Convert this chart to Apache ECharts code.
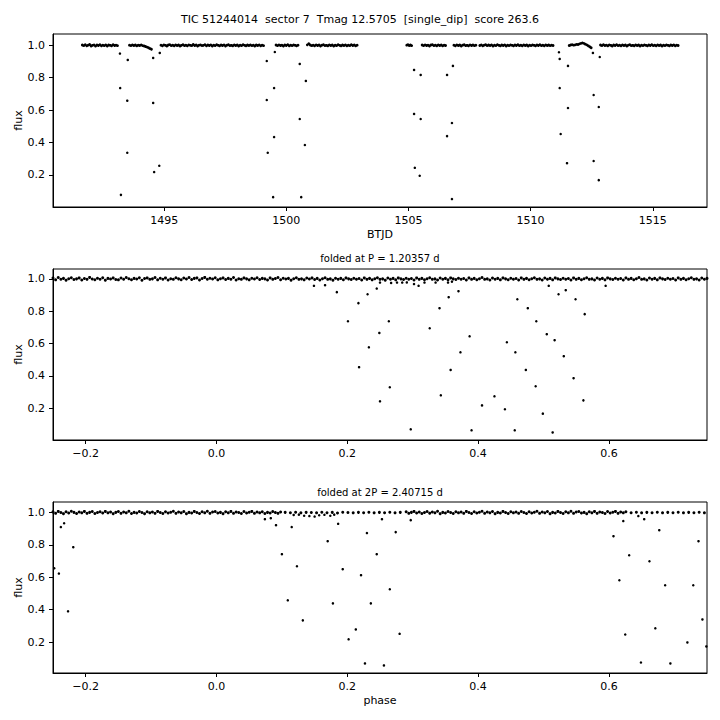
<!DOCTYPE html>
<html><head><meta charset="utf-8">
<script src="https://cdn.jsdelivr.net/npm/echarts@6/dist/echarts.min.js"></script>
<style>html,body{margin:0;padding:0;background:#fff}#c{width:720px;height:720px}</style>
</head><body><div id="c"></div>
<script>
const titleText = 'TIC 51244014  sector 7  Tmag 12.5705  [single_dip]  score 263.6';
const foldTitle1 = 'folded at P = 1.20357 d';
const foldTitle2 = 'folded at 2P = 2.40715 d';
const xLabel1 = 'BTJD';
const xLabel3 = 'phase';
const yLabel = 'flux';
const xTicksTime = [1495, 1500, 1505, 1510, 1515];
const xTicksPhase = [-0.2, 0, 0.2, 0.4, 0.6];
const yTicksFlux = [0.2, 0.4, 0.6, 0.8, 1.0];

// light curve: out-of-dip points (BTJD, flux)
const lcBaseline = [
[1491.65,1.002],[1491.71,0.998],[1491.77,1.004],[1491.83,0.997],[1491.89,1.001],[1491.95,1.005],[1492.01,0.996],[1492.07,1.000],[1492.13,1.003],[1492.19,0.995],[1492.25,1.002],[1492.31,0.999],[1492.37,1.004],[1492.43,0.997],[1492.49,1.001],[1492.55,0.998],[1492.61,1.003],[1492.67,0.996],[1492.73,1.002],[1492.79,1.000],[1492.85,0.997],[1492.91,1.004],[1492.97,0.999],[1493.03,1.001],[1493.09,0.998],
[1493.58,1.001],[1493.64,0.998],[1493.70,1.003],[1493.76,0.999],[1493.82,1.002],[1493.88,0.997],[1493.94,1.001],[1494.00,0.999],[1494.06,1.003],[1494.12,0.998],[1494.18,0.996],[1494.24,0.993],[1494.30,0.989],[1494.36,0.985],[1494.42,0.980],[1494.48,0.976],
[1494.87,1.001],[1494.93,0.997],[1494.99,1.003],[1495.05,1.000],[1495.11,0.996],[1495.17,1.002],[1495.23,1.004],[1495.29,0.998],[1495.35,1.001],[1495.41,0.997],[1495.47,1.003],[1495.53,0.999],[1495.59,1.002],[1495.65,0.996],[1495.71,1.000],[1495.77,1.004],[1495.83,0.998],[1495.89,1.001],[1495.95,0.997],[1496.01,1.003],[1496.07,1.000],[1496.13,0.998],[1496.19,1.005],[1496.25,0.999],[1496.31,1.002],[1496.37,0.996],[1496.43,1.001],[1496.49,1.003],[1496.55,0.998],[1496.61,1.000],[1496.67,1.004],[1496.73,0.997],[1496.79,1.002],[1496.85,0.999],[1496.91,1.003],[1496.97,0.996],[1497.03,1.001],[1497.09,0.998],[1497.15,1.004],[1497.21,1.000],[1497.27,0.997],[1497.33,1.002],[1497.39,0.999],[1497.45,1.003],[1497.51,0.996],[1497.57,1.001],[1497.63,1.004],[1497.69,0.998],[1497.75,1.000],[1497.81,0.997],[1497.87,1.003],[1497.93,0.999],[1497.99,1.002],[1498.05,0.996],[1498.11,1.001],[1498.17,0.998],[1498.23,1.004],[1498.29,1.000],[1498.35,0.997],[1498.41,1.002],[1498.47,0.999],[1498.53,1.003],[1498.59,0.998],[1498.65,1.001],[1498.71,0.996],[1498.77,1.002],[1498.83,0.999],[1498.89,1.003],[1498.95,0.997],[1499.01,1.001],[1499.07,0.998],
[1499.58,1.002],[1499.64,0.998],[1499.70,1.003],[1499.76,0.999],[1499.82,1.001],[1499.88,0.996],[1499.94,1.002],[1500.00,0.999],[1500.06,1.004],[1500.12,0.997],[1500.18,1.001],[1500.24,0.998],[1500.30,1.003],[1500.36,1.000],[1500.42,0.997],[1500.48,1.001],
[1500.86,1.003],[1500.92,1.010],[1500.98,1.002],[1501.04,0.998],[1501.10,1.001],[1501.16,0.997],[1501.22,1.003],[1501.28,0.999],[1501.34,1.002],[1501.40,0.996],[1501.46,1.001],[1501.52,1.004],[1501.58,0.998],[1501.64,1.000],[1501.70,0.997],[1501.76,1.003],[1501.82,0.999],[1501.88,1.002],[1501.94,0.996],[1502.00,1.001],[1502.06,0.998],[1502.12,1.004],[1502.18,1.000],[1502.24,0.997],[1502.30,1.002],[1502.36,0.999],[1502.42,1.003],[1502.48,0.997],[1502.54,1.001],[1502.60,0.998],[1502.66,1.004],[1502.72,0.999],[1502.78,1.002],[1502.84,0.997],[1502.90,1.001],
[1504.93,1.001],[1504.98,1.004],[1505.03,0.999],[1505.08,1.002],[1505.13,0.998],
[1505.56,1.002],[1505.62,0.998],[1505.68,1.003],[1505.74,0.999],[1505.80,1.001],[1505.86,0.996],[1505.92,1.002],[1505.98,1.004],[1506.04,0.998],[1506.10,1.001],[1506.16,0.997],[1506.22,1.003],[1506.28,0.999],[1506.34,1.002],[1506.40,0.997],[1506.46,1.001],[1506.52,0.999],
[1506.86,1.001],[1506.92,0.997],[1506.98,1.003],[1507.04,0.999],[1507.10,1.002],[1507.16,0.996],[1507.22,1.001],[1507.28,1.004],[1507.34,0.998],[1507.40,1.000],[1507.46,0.997],[1507.52,1.003],[1507.58,0.999],[1507.64,1.002],[1507.70,0.998],[1507.76,1.001],
[1507.92,0.999],[1507.98,1.003],[1508.04,0.997],[1508.10,1.001],[1508.16,1.004],[1508.22,0.998],[1508.28,1.002],[1508.34,0.999],[1508.40,1.003],[1508.46,0.996],[1508.52,1.001],[1508.58,0.998],[1508.64,1.004],[1508.70,1.000],[1508.76,0.997],[1508.82,1.002],[1508.88,0.999],[1508.94,1.003],[1509.00,0.996],[1509.06,1.001],[1509.12,0.998],[1509.18,1.003],[1509.24,1.000],[1509.30,0.997],[1509.36,1.002],[1509.42,0.999],[1509.48,1.004],[1509.54,0.998],[1509.60,1.001],[1509.66,0.997],[1509.72,1.003],[1509.78,0.999],[1509.84,1.002],[1509.90,0.996],[1509.96,1.001],[1510.02,0.998],[1510.08,1.003],[1510.14,1.000],[1510.20,0.997],[1510.26,1.002],[1510.32,0.999],[1510.38,1.004],[1510.44,0.998],[1510.50,1.001],[1510.56,0.997],[1510.62,1.003],[1510.68,0.999],[1510.74,1.002],[1510.80,0.998],[1510.86,1.001],[1510.92,0.999],
[1511.58,0.999],[1511.64,1.002],[1511.70,1.004],[1511.76,1.001],[1511.82,1.003],[1511.88,1.006],[1511.94,1.005],[1512.00,1.009],[1512.06,1.012],[1512.12,1.015],[1512.18,1.012],[1512.24,1.007],[1512.30,1.003],[1512.36,0.997],[1512.42,0.991],[1512.48,0.985],
[1512.86,1.002],[1512.92,0.998],[1512.98,1.004],[1513.04,0.999],[1513.10,1.001],[1513.16,0.997],[1513.22,1.003],[1513.28,1.000],[1513.34,0.996],[1513.40,1.002],[1513.46,0.999],[1513.52,1.004],[1513.58,0.998],[1513.64,1.001],[1513.70,0.997],[1513.76,1.003],[1513.82,0.999],[1513.88,1.002],[1513.94,0.996],[1514.00,1.001],[1514.06,1.004],[1514.12,0.998],[1514.18,1.000],[1514.24,0.997],[1514.30,1.003],[1514.36,0.999],[1514.42,1.002],[1514.48,0.996],[1514.54,1.001],[1514.60,0.998],[1514.66,1.003],[1514.72,1.000],[1514.78,0.997],[1514.84,1.002],[1514.90,0.999],[1514.96,1.004],[1515.02,0.998],[1515.08,1.001],[1515.14,0.997],[1515.20,1.003],[1515.26,0.999],[1515.32,1.002],[1515.38,0.996],[1515.44,1.001],[1515.50,0.998],[1515.56,1.003],[1515.62,1.000],[1515.68,0.997],[1515.74,1.002],[1515.80,0.999],[1515.86,1.003],[1515.92,0.997],[1515.98,1.001],[1516.04,0.999]
];
// light curve: in-dip points (BTJD, flux)
const lcDips = [
[1493.19,0.949],[1493.51,0.910],[1493.20,0.736],[1493.49,0.658],[1493.49,0.336],[1493.23,0.076],
[1494.55,0.922],[1494.82,0.953],[1494.55,0.644],[1494.59,0.217],[1494.80,0.256],
[1499.20,0.903],[1499.53,0.959],[1499.50,0.736],[1499.20,0.662],[1499.50,0.433],[1499.24,0.336],[1499.46,0.062],
[1500.55,0.885],[1500.80,0.780],[1500.55,0.545],[1500.76,0.384],[1500.61,0.062],
[1505.23,0.848],[1505.50,0.817],[1506.58,0.817],[1506.82,0.873],[1505.23,0.576],[1505.50,0.545],[1506.78,0.520],[1506.58,0.439],[1505.26,0.243],[1505.46,0.194],[1506.78,0.050],
[1511.16,0.957],[1511.19,0.916],[1511.53,0.873],[1511.19,0.736],[1511.53,0.613],[1511.23,0.452],[1511.49,0.272],
[1512.55,0.953],[1512.83,0.928],[1512.58,0.693],[1512.79,0.619],[1512.58,0.285],[1512.79,0.167]
];

// folded at P: out-of-dip points (phase, flux)
const fold1Baseline = [
[-0.250,1.005],[-0.246,0.994],[-0.242,1.008],[-0.238,0.998],[-0.234,1.003],[-0.230,0.992],[-0.226,1.001],[-0.222,1.007],[-0.218,0.996],[-0.214,1.000],[-0.210,1.006],[-0.206,0.993],[-0.202,1.002],[-0.198,0.997],[-0.194,1.009],[-0.190,0.999],[-0.186,0.995],[-0.182,1.004],[-0.178,0.998],[-0.174,1.007],[-0.170,0.992],[-0.166,1.003],[-0.162,0.999],[-0.158,1.006],[-0.154,0.996],[-0.150,0.994],[-0.146,1.005],[-0.142,0.998],[-0.138,1.008],[-0.134,1.001],[-0.130,0.995],[-0.126,1.003],[-0.122,0.999],[-0.118,1.007],[-0.114,0.991],[-0.110,1.002],[-0.106,1.006],[-0.102,0.997],[-0.098,1.000],[-0.094,1.008],[-0.090,0.994],[-0.086,1.004],[-0.082,0.998],[-0.078,1.006],[-0.074,0.993],[-0.070,1.001],[-0.066,0.997],[-0.062,1.007],[-0.058,1.000],[-0.054,0.995],[-0.050,1.005],[-0.046,0.999],[-0.042,1.008],[-0.038,0.996],[-0.034,1.003],[-0.030,1.006],[-0.026,0.993],[-0.022,1.002],[-0.018,1.009],[-0.014,0.998],[-0.010,1.004],[-0.006,0.999],[-0.002,1.007],
[0.002,0.994],[0.006,1.001],[0.010,1.006],[0.014,0.996],[0.018,1.003],[0.022,0.998],[0.026,1.008],[0.030,0.993],[0.034,1.001],[0.038,0.997],[0.042,1.006],[0.046,1.000],[0.050,0.994],[0.054,1.004],[0.058,0.999],[0.062,1.007],[0.066,0.996],[0.070,1.003],[0.074,1.000],[0.078,0.993],[0.082,1.006],[0.086,0.997],[0.090,1.002],[0.094,1.008],[0.098,0.995],[0.102,1.004],[0.106,0.999],[0.110,1.003],[0.114,0.992],[0.118,1.001],[0.122,1.007],[0.126,0.997],[0.130,1.000],[0.134,0.994],[0.138,1.005],[0.142,0.999],[0.146,1.006],[0.150,0.996],[0.154,1.003],[0.158,0.993],[0.162,1.001],[0.166,1.007],[0.170,0.997],[0.174,1.000],[0.178,0.992],[0.182,1.004],[0.186,0.998],[0.190,1.003],[0.194,0.995],[0.198,1.006],[0.202,1.000],[0.206,0.996],[0.210,1.004],[0.214,0.998],[0.218,1.002],[0.222,0.993],[0.226,1.006],[0.230,0.997],[0.234,1.003],[0.238,0.994],[0.242,1.001],[0.246,1.007],
[0.250,0.997],[0.254,1.000],[0.258,0.992],[0.262,1.005],[0.266,0.998],[0.270,1.003],[0.274,0.994],[0.278,1.006],[0.282,1.000],[0.286,0.996],[0.290,1.004],[0.294,0.998],[0.298,1.002],[0.302,0.993],[0.306,1.006],[0.310,0.997],[0.314,1.003],[0.318,0.995],[0.322,1.001],[0.326,1.007],[0.330,0.997],[0.334,1.000],[0.338,0.993],[0.342,1.005],[0.346,0.998],[0.350,1.003],[0.354,0.994],[0.358,1.006],[0.362,1.000],[0.366,0.996],[0.370,1.004],[0.374,0.998],[0.378,1.002],[0.382,0.993],[0.386,1.006],[0.390,0.997],[0.394,1.003],[0.398,0.995],[0.402,1.001],[0.406,1.008],[0.410,0.997],[0.414,1.000],[0.418,0.993],[0.422,1.005],[0.426,0.998],[0.430,1.003],[0.434,0.994],[0.438,1.006],[0.442,1.000],[0.446,0.995],[0.450,1.004],[0.454,0.998],[0.458,1.002],[0.462,0.993],[0.466,1.006],[0.470,0.997],[0.474,1.003],[0.478,0.995],[0.482,1.001],[0.486,1.007],[0.490,0.997],[0.494,1.000],[0.498,0.993],
[0.502,1.005],[0.506,0.998],[0.510,1.003],[0.514,0.994],[0.518,1.006],[0.522,1.000],[0.526,0.996],[0.530,1.004],[0.534,0.998],[0.538,1.002],[0.542,0.993],[0.546,1.006],[0.550,0.997],[0.554,1.003],[0.558,0.995],[0.562,1.001],[0.566,1.007],[0.570,0.997],[0.574,1.000],[0.578,0.993],[0.582,1.005],[0.586,0.998],[0.590,1.003],[0.594,0.994],[0.598,1.006],[0.602,1.000],[0.606,0.996],[0.610,1.004],[0.614,0.998],[0.618,1.002],[0.622,0.993],[0.626,1.006],[0.630,0.997],[0.634,1.003],[0.638,0.995],[0.642,1.001],[0.646,1.008],[0.650,0.997],[0.654,1.000],[0.658,0.993],[0.662,1.005],[0.666,0.998],[0.670,1.003],[0.674,0.994],[0.678,1.006],[0.682,1.000],[0.686,0.996],[0.690,1.004],[0.694,0.998],[0.698,1.002],[0.702,0.993],[0.706,1.006],[0.710,0.997],[0.714,1.003],[0.718,0.995],[0.722,1.001],[0.726,1.007],[0.730,0.997],[0.734,1.000],[0.738,0.993],[0.742,1.005],[0.746,0.998],[0.750,1.003]
];
// folded at P: shallow and deep in-dip points (phase, flux)
const fold1Shallow = [
[0.250,0.977],[0.267,0.975],[0.276,0.977],[0.284,0.977],[0.291,0.978],[0.302,0.968],[0.309,0.957],[0.318,0.977],[0.335,0.977],[0.354,0.977],[0.360,0.983]
];
const fold1Dips = [
[0.149,0.957],[0.166,0.961],[0.184,0.918],[0.201,0.738],[0.217,0.850],[0.218,0.454],[0.233,0.577],[0.231,0.905],[0.245,0.940],[0.249,0.666],[0.2635,0.738],[0.265,0.330],[0.250,0.243],[0.297,0.070],[0.326,0.695],[0.341,0.819],[0.355,0.887],[0.370,0.924],[0.358,0.437],[0.343,0.280],[0.373,0.546],[0.387,0.645],[0.390,0.064],[0.406,0.218],[0.425,0.274],[0.441,0.194],[0.444,0.608],[0.457,0.546],[0.460,0.874],[0.456,0.064],[0.473,0.437],[0.476,0.819],[0.488,0.336],[0.489,0.738],[0.499,0.167],[0.505,0.658],[0.508,0.957],[0.514,0.051],[0.517,0.621],[0.523,0.905],[0.531,0.522],[0.534,0.930],[0.546,0.386],[0.549,0.874],[0.563,0.782],[0.561,0.249],[0.595,0.957]
];

// folded at 2P: out-of-dip points (phase, flux)
const fold2Baseline = [
[-0.250,1.004],[-0.246,0.995],[-0.242,1.007],[-0.238,1.000],[-0.234,0.993],[-0.230,1.005],[-0.226,0.997],[-0.222,1.008],[-0.218,1.001],[-0.214,0.994],[-0.210,1.003],[-0.206,0.998],[-0.202,1.007],[-0.198,0.995],[-0.194,1.001],[-0.190,1.006],[-0.186,0.994],[-0.182,1.000],[-0.178,1.005],[-0.174,0.997],[-0.170,1.007],[-0.166,0.998],[-0.162,1.003],[-0.158,0.993],[-0.154,1.001],[-0.150,1.006],[-0.146,0.995],[-0.142,1.003],[-0.138,0.998],[-0.134,1.008],[-0.130,0.994],[-0.126,1.001],[-0.122,0.997],[-0.118,1.006],[-0.114,1.000],[-0.110,0.993],[-0.106,1.005],[-0.102,0.998],[-0.098,1.003],[-0.094,0.995],[-0.090,1.007],[-0.086,1.000],[-0.082,0.994],[-0.078,1.005],[-0.074,0.997],[-0.070,1.002],[-0.066,1.008],[-0.062,0.995],[-0.058,1.003],[-0.054,0.998],[-0.050,1.006],[-0.046,0.993],[-0.042,1.001],[-0.038,0.997],[-0.034,1.007],[-0.030,1.000],[-0.026,0.994],[-0.022,1.005],[-0.018,0.998],[-0.014,1.008],[-0.010,0.995],[-0.006,1.003],[-0.002,1.006],
[0.002,0.997],[0.006,1.001],[0.010,0.993],[0.014,1.005],[0.018,0.998],[0.022,1.007],[0.026,0.995],[0.030,1.003],[0.034,1.000],[0.038,0.994],[0.042,1.006],[0.046,0.997],[0.050,1.002],[0.054,1.007],[0.058,0.995],[0.062,1.003],[0.066,0.998],[0.070,1.005],[0.074,0.994],[0.078,1.001],[0.082,0.997],[0.086,1.006],[0.090,1.000],[0.094,0.995],[0.098,1.003],
[0.105,1.001],[0.113,0.999],[0.121,1.002],[0.129,0.998],[0.137,1.001],[0.145,1.000],[0.153,0.998],[0.161,1.002],[0.169,0.999],[0.177,1.001],[0.185,0.997],[0.193,1.002],[0.201,1.000],[0.209,0.998],[0.217,1.001],[0.225,0.999],[0.233,1.002],[0.241,0.998],[0.249,1.001],[0.257,0.999],[0.265,1.002],[0.273,0.998],[0.281,1.001],
[0.290,1.005],[0.294,0.995],[0.298,1.001],[0.302,1.007],[0.306,0.997],[0.310,1.003],[0.314,0.994],[0.318,1.000],[0.322,1.006],[0.326,0.996],[0.330,1.003],[0.334,0.998],[0.338,1.008],[0.342,0.993],[0.346,1.001],[0.350,0.997],[0.354,1.006],[0.358,1.000],[0.362,0.994],[0.366,1.005],[0.370,0.998],[0.374,1.003],[0.378,0.995],[0.382,1.007],[0.386,1.000],[0.390,0.994],[0.394,1.005],[0.398,0.997],[0.402,1.002],[0.406,1.008],[0.410,0.995],[0.414,1.003],[0.418,0.998],[0.422,1.006],[0.426,0.993],[0.430,1.001],[0.434,0.997],[0.438,1.007],[0.442,1.000],[0.446,0.994],[0.450,1.005],[0.454,0.998],[0.458,1.003],[0.462,0.995],[0.466,1.006],[0.470,1.000],[0.474,0.994],[0.478,1.005],[0.482,0.997],[0.486,1.002],[0.490,1.008],[0.494,0.995],[0.498,1.003],[0.502,0.998],[0.506,1.006],[0.510,0.993],[0.514,1.001],[0.518,0.997],[0.522,1.007],[0.526,1.000],[0.530,0.994],[0.534,1.005],[0.538,0.998],[0.542,1.008],[0.546,0.995],[0.550,1.003],[0.554,1.006],[0.558,0.997],[0.562,1.001],[0.566,0.993],[0.570,1.005],[0.574,0.998],[0.578,1.007],[0.582,0.995],[0.586,1.003],[0.590,1.000],[0.594,0.994],[0.598,1.006],[0.602,0.997],[0.606,1.002],[0.610,1.007],[0.614,0.995],[0.618,1.003],[0.622,0.998],[0.626,1.005],
[0.634,0.999],[0.642,1.002],[0.650,0.998],[0.658,1.001],[0.666,0.999],[0.674,1.002],[0.682,0.998],[0.690,1.001],[0.698,0.999],[0.706,1.002],[0.714,0.998],[0.722,1.001],[0.730,0.999],[0.738,1.002],[0.746,0.998]
];
// folded at 2P: shallow and deep in-dip points (phase, flux)
const fold2Shallow = [
[0.118,0.985],[0.126,0.987],[0.134,0.980],[0.142,0.978],[0.150,0.975],[0.157,0.983],[0.165,0.986],[0.174,0.980],[0.180,0.987]
];
const fold2Dips = [
[-0.248,0.656],[-0.241,0.623],[-0.238,0.910],[-0.233,0.934],[-0.227,0.390],[-0.219,0.786],
[0.074,0.959],[0.083,0.965],[0.091,0.922],[0.100,0.743],[0.109,0.458],[0.115,0.910],[0.123,0.668],[0.132,0.334],
[0.170,0.823],[0.178,0.439],[0.186,0.930],[0.193,0.650],[0.202,0.217],[0.213,0.278],[0.221,0.613],[0.227,0.068],[0.230,0.873],[0.236,0.439],[0.245,0.743],
[0.253,0.959],[0.256,0.056],[0.265,0.526],[0.274,0.879],[0.280,0.251],[0.297,0.953],
[0.607,0.854],[0.616,0.582],[0.622,0.947],[0.625,0.247],[0.631,0.736],[0.645,0.978],[0.649,0.074],[0.654,0.959],[0.662,0.699],[0.671,0.285],[0.677,0.891],[0.686,0.551],[0.694,0.068],[0.720,0.198],[0.729,0.551],[0.737,0.823],[0.743,0.340],[0.749,0.173]
];

const FONT = '"DejaVu Sans", sans-serif';
const chart = echarts.init(document.getElementById('c'), null, {renderer: 'svg', width: 720, height: 720});

const fmtFlux = v => v.toFixed(1);
const fmtTime = v => String(v);
const fmtPhase = v => (v < -1e-9 ? '\u2212' : '') + Math.abs(v).toFixed(1);

function xAx(i, min, max, ticks, fmt) {
  return {
    type: 'value', gridIndex: i, min: min, max: max, position: 'bottom',
    axisLine: {show: true, onZero: false, lineStyle: {color: '#000', width: 1}},
    axisTick: {show: true, customValues: ticks, length: 4, inside: false, lineStyle: {color: '#000', width: 1}},
    axisLabel: {show: true, customValues: ticks, margin: 8, color: '#000', fontFamily: FONT, fontSize: 11, formatter: fmt},
    splitLine: {show: false}
  };
}
function yAx(i, min, max) {
  return {
    type: 'value', gridIndex: i, min: min, max: max, position: 'left',
    axisLine: {show: true, onZero: false, lineStyle: {color: '#000', width: 1}},
    axisTick: {show: true, customValues: yTicksFlux, length: 4, inside: false, lineStyle: {color: '#000', width: 1}},
    axisLabel: {show: true, customValues: yTicksFlux, margin: 8, color: '#000', fontFamily: FONT, fontSize: 11, formatter: fmtFlux},
    splitLine: {show: false}
  };
}
function sc(data, i, size) {
  return {type: 'scatter', xAxisIndex: i, yAxisIndex: i, data: data, symbol: 'circle', symbolSize: size,
    itemStyle: {color: '#000', opacity: 1}, silent: true, animation: false};
}
function txt(text, x, y, size, rot) {
  return {type: 'text', x: x, y: y, rotation: rot || 0, silent: true,
    style: {text: text, fill: '#000', font: size + 'px ' + FONT, align: 'center', verticalAlign: 'middle', textAlign: 'center', textVerticalAlign: 'middle'}};
}

const gridBox = {show: true, borderColor: '#000', borderWidth: 1, backgroundColor: 'rgba(0,0,0,0)', containLabel: false};

chart.setOption({
  animation: false,
  backgroundColor: '#fff',
  grid: [
    Object.assign({left: 53, top: 34, width: 654, height: 173}, gridBox),
    Object.assign({left: 53, top: 269, width: 654, height: 171}, gridBox),
    Object.assign({left: 53, top: 502, width: 654, height: 171}, gridBox)
  ],
  xAxis: [
    xAx(0, 1490.45, 1517.22, xTicksTime, fmtTime),
    xAx(1, -0.25, 0.75, xTicksPhase, fmtPhase),
    xAx(2, -0.25, 0.75, xTicksPhase, fmtPhase)
  ],
  yAxis: [
    yAx(0, 0.001, 1.070),
    yAx(1, 0.004, 1.061),
    yAx(2, 0.009, 1.065)
  ],
  series: [
    sc(lcBaseline, 0, 2.8), sc(lcDips, 0, 2.5),
    sc(fold1Baseline, 1, 3), sc(fold1Shallow, 1, 2.5), sc(fold1Dips, 1, 2.5),
    sc(fold2Baseline, 2, 3), sc(fold2Shallow, 2, 2.5), sc(fold2Dips, 2, 2.5)
  ],
  graphic: [
    txt(titleText, 360, 19, 11),
    txt(foldTitle1, 380, 258, 10),
    txt(foldTitle2, 380, 492, 10),
    txt(xLabel1, 380, 234, 11),
    txt(xLabel3, 380, 700, 11),
    txt(yLabel, 18, 120.5, 11, Math.PI / 2),
    txt(yLabel, 18, 354.5, 11, Math.PI / 2),
    txt(yLabel, 18, 587.5, 11, Math.PI / 2)
  ]
});
</script>
</body></html>
